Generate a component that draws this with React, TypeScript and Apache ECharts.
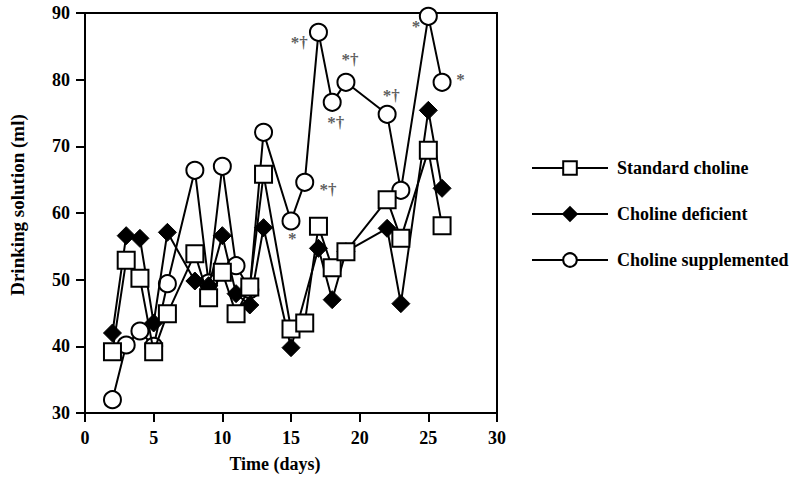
import React, { useEffect, useRef } from "react";
import * as echarts from "echarts";

const stdDays = [2, 3, 4, 5, 6, 8, 9, 10, 11, 12, 13, 15, 16, 17, 18, 19, 22, 23, 25, 26];
const stdValues = [39.2, 52.9, 50.2, 39.2, 44.9, 53.9, 47.3, 51.1, 44.9, 48.9, 65.8, 42.6, 43.5, 58.0, 51.8, 54.2, 62.0, 56.2, 69.4, 58.1];

const defDays = [2, 3, 4, 5, 6, 8, 9, 10, 11, 12, 13, 15, 17, 18, 19, 22, 23, 25, 26];
const defValues = [42.0, 56.6, 56.2, 43.5, 57.1, 49.8, 49.1, 56.6, 47.9, 46.2, 57.8, 39.8, 54.7, 47.0, 54.2, 57.7, 46.4, 75.4, 63.7];

const supDays = [2, 3, 4, 5, 6, 8, 9, 10, 11, 12, 13, 15, 16, 17, 18, 19, 22, 23, 25, 26];
const supValues = [32.0, 40.2, 42.3, 40.0, 49.4, 66.4, 49.5, 67.0, 52.1, 48.5, 72.1, 58.8, 64.6, 87.1, 76.6, 79.6, 74.8, 63.4, 89.5, 79.6];

const annotTexts = ["*†", "*†", "*†", "*†", "*†", "*", "*", "*"];
const annotX = [15.6, 19.3, 18.25, 22.3, 17.7, 24.1, 27.35, 15.1];
const annotY = [85.6, 83.1, 73.6, 77.7, 63.6, 88.0, 80.1, 56.2];

const seriesNames = ["Standard choline", "Choline deficient", "Choline supplemented"];

const FONT = "'Liberation Serif', 'Times New Roman', serif";

function pairs(xs: number[], ys: number[]) {
  return xs.map((x, i) => [x, ys[i]]);
}

export default function App() {
  const ref = useRef<HTMLDivElement>(null);
  useEffect(() => {
    if (!ref.current) return;
    const chart = echarts.init(ref.current, null, { renderer: "svg" });
    const lineStyle = { color: "#000", width: 2 };
    const annotLabel = {
      show: true,
      position: "top",
      distance: -9,
      fontFamily: FONT,
      fontWeight: "bold",
      fontSize: 17,
      color: "#333",
    };
    chart.setOption({
      animation: false,
      backgroundColor: "#fff",
      grid: {
        left: 83,
        top: 13,
        right: 303,
        bottom: 68,
        show: true,
        borderColor: "#000",
        borderWidth: 2,
      },
      legend: {
        orient: "vertical",
        left: 526,
        top: 154,
        itemWidth: 76,
        itemHeight: 17,
        itemGap: 28,
        textStyle: {
          fontFamily: FONT,
          fontWeight: "bold",
          fontSize: 18,
          color: "#000",
          padding: [0, 0, 0, 4],
        },
        data: seriesNames,
      },
      xAxis: {
        type: "value",
        min: 0,
        max: 30,
        interval: 5,
        name: "Time (days)",
        nameLocation: "middle",
        nameGap: 42,
        nameTextStyle: {
          fontFamily: FONT,
          fontWeight: "bold",
          fontSize: 18,
          color: "#000",
          padding: [0, 32, 0, 0],
        },
        axisLine: { lineStyle: { color: "#000", width: 2 } },
        axisTick: { show: true, length: 9, lineStyle: { color: "#000", width: 2 } },
        axisLabel: {
          fontFamily: FONT,
          fontWeight: "bold",
          fontSize: 18,
          color: "#000",
          margin: 16,
        },
        splitLine: { show: false },
      },
      yAxis: {
        type: "value",
        min: 30,
        max: 90,
        interval: 10,
        name: "Drinking solution (ml)",
        nameLocation: "middle",
        nameGap: 58,
        nameTextStyle: {
          fontFamily: FONT,
          fontWeight: "bold",
          fontSize: 19,
          color: "#000",
          padding: [0, 0, 0, 16],
        },
        axisLine: { lineStyle: { color: "#000", width: 2 } },
        axisTick: { show: true, length: 9, lineStyle: { color: "#000", width: 2 } },
        axisLabel: {
          fontFamily: FONT,
          fontWeight: "bold",
          fontSize: 18,
          color: "#000",
          margin: 15,
        },
        splitLine: { show: false },
      },
      series: [
        {
          name: seriesNames[2],
          type: "line",
          z: 2,
          data: pairs(supDays, supValues),
          symbol: "circle",
          symbolSize: 17,
          lineStyle,
          itemStyle: { color: "#fff", borderColor: "#000", borderWidth: 2 },
        },
        {
          name: seriesNames[1],
          type: "line",
          z: 3,
          data: pairs(defDays, defValues),
          symbol: "diamond",
          symbolSize: 18,
          lineStyle,
          itemStyle: { color: "#000", borderColor: "#000", borderWidth: 1 },
        },
        {
          name: seriesNames[0],
          type: "line",
          z: 4,
          data: pairs(stdDays, stdValues),
          symbol: "rect",
          symbolSize: 17,
          lineStyle,
          itemStyle: { color: "#fff", borderColor: "#000", borderWidth: 2 },
        },
        {
          name: "annotations",
          type: "scatter",
          z: 5,
          symbolSize: 1,
          silent: true,
          itemStyle: { color: "rgba(255,255,255,0)" },
          label: annotLabel,
          data: annotTexts.map((t, i) => ({
            value: [annotX[i], annotY[i]],
            label: { ...annotLabel, formatter: t },
          })),
        },
      ],
    });
    return () => chart.dispose();
  }, []);
  return <div ref={ref} style={{ width: 800, height: 481, position: "absolute", left: 0, top: 0 }} />;
}
